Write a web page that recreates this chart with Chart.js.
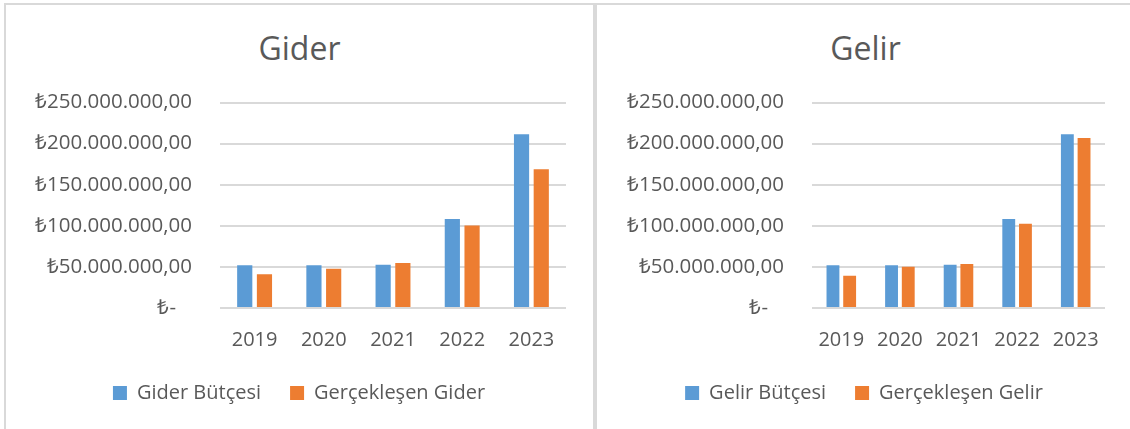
<!DOCTYPE html>
<html>
<head>
<meta charset="utf-8">
<script src="https://cdn.jsdelivr.net/npm/chart.js@4"></script>
<style>
  html, body { margin: 0; padding: 0; background: #fff; overflow: hidden; width: 1130px; height: 429px; }
  .panel { position: absolute; top: 3px; height: 440px; border: 2px solid #d9d9d9; background: #fff; }
  .panel canvas { position: absolute; left: 0; top: 0; }
  .baslik { position: absolute; left: 0; right: 0; top: 24px; text-align: center;
            font: 32px "Open Sans", sans-serif; line-height: 38px; color: #595959; }
</style>
</head>
<body>
<div class="panel" style="left:4px; width:587px;">
  <div class="baslik">Gider</div>
  <canvas id="giderChart" width="587" height="424"></canvas>
</div>
<div class="panel" style="left:595px; width:537px;">
  <div class="baslik">Gelir</div>
  <canvas id="gelirChart" width="537" height="424"></canvas>
</div>
<script>
// veriler
let yillar = ['2019', '2020', '2021', '2022', '2023'];
let giderButcesi = [52000000, 52000000, 52700000, 108300000, 211300000];
let gerceklesenGider = [41000000, 47800000, 54800000, 100500000, 168800000];
let gelirButcesi = [52000000, 52000000, 52700000, 108300000, 211300000];
let gerceklesenGelir = [39200000, 50300000, 53500000, 102600000, 206800000];
let yEksen = [0, 50000000, 100000000, 150000000, 200000000, 250000000];

let yazi = '#595959';
let mavi = '#5b9bd5';
let turuncu = '#ed7d31';

function tlFormat(v) {
    if (v === 0) return '₺-   ';
    let s = Math.round(v).toString().replace(/\B(?=(\d{3})+(?!\d))/g, '.');
    return '₺' + s + ',00';
}

function grafikCiz(id, seriler, solGenislik, sagBosluk) {
    let ctx = document.getElementById(id).getContext('2d');
    return new Chart(ctx, {
        type: 'bar',
        data: {
            labels: yillar,
            datasets: seriler.map(s => ({
                label: s.ad,
                data: s.veri,
                backgroundColor: s.renk,
                borderWidth: 0,
                categoryPercentage: 0.57,
                barPercentage: 0.77
            }))
        },
        options: {
            responsive: false,
            animation: false,
            layout: {
                padding: { left: 26, right: sagBosluk, top: 97.5, bottom: 16 }
            },
            scales: {
                x: {
                    grid: { display: false },
                    border: { display: false },
                    ticks: {
                        color: yazi,
                        padding: 12,
                        font: { family: 'Open Sans', size: 20 }
                    },
                    afterFit: function(scale) { scale.height = 46; }
                },
                y: {
                    min: 0,
                    max: 250000000,
                    afterBuildTicks: function(scale) {
                        scale.ticks = yEksen.map(v => ({ value: v }));
                    },
                    grid: { color: '#d9d9d9', lineWidth: 2, drawTicks: false },
                    border: { display: false },
                    ticks: {
                        color: yazi,
                        padding: 28,
                        font: { family: 'Open Sans', size: 20.5 },
                        callback: function(v) { return tlFormat(v); }
                    },
                    afterFit: function(scale) { scale.width = solGenislik; }
                }
            },
            plugins: {
                legend: {
                    position: 'bottom',
                    labels: {
                        color: yazi,
                        boxWidth: 14,
                        boxHeight: 14,
                        padding: 29,
                        font: { family: 'Open Sans', size: 20 }
                    }
                },
                title: { display: false },
                tooltip: { enabled: false }
            }
        }
    });
}

grafikCiz('giderChart', [
    { ad: 'Gider Bütçesi', veri: giderButcesi, renk: mavi },
    { ad: 'Gerçekleşen Gider', veri: gerceklesenGider, renk: turuncu }
], 188, 27);

grafikCiz('gelirChart', [
    { ad: 'Gelir Bütçesi', veri: gelirButcesi, renk: mavi },
    { ad: 'Gerçekleşen Gelir', veri: gerceklesenGelir, renk: turuncu }
], 189, 29);
</script>
</body>
</html>
